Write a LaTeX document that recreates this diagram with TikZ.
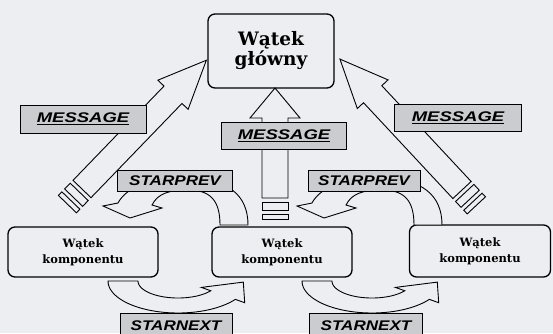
\documentclass[tikz,border=0pt]{standalone}
\usepackage{fontspec}
\usepackage{graphicx}
\usepackage{tikz}
\newfontfamily\tagfont{Liberation Sans}
\newfontfamily\boxfont{DejaVu Serif}

\definecolor{paper}{RGB}{236,238,242}
\definecolor{tagfill}{RGB}{202,204,208}

% striped block arrow: tail, angle, shaft length, head length, head half width, shaft half width
\newcommand{\stripedarrow}[6]{%
  \begin{scope}[shift={(#1)}, rotate=#2]
    \draw[blockarrow] (0,-#6) -- (#3,-#6) -- (#3,-#5) -- ({#3+#4},0)
      -- (#3,#5) -- (#3,#6) -- (0,#6) -- cycle;
    \draw[blockarrow] (-4,-#6) rectangle (-12,#6);
    \draw[blockarrow] (-16,-#6) rectangle (-21,#6);
  \end{scope}}

% curved arrow over the boxes, head on the left
\newcommand{\prevarrow}[1]{%
  \begin{scope}[shift={(#1)}]
    \draw[blockarrow] (36,18) -- (64,18)
      .. controls (64,-12) and (44,-29) .. (1,-29)
      .. controls (-36,-29) and (-58,-19) .. (-66,-4)
      -- (-81,-1) -- (-54,11) -- (-22,1) -- (-32,-2)
      .. controls (-26,-14) and (-14,-17) .. (4,-17)
      .. controls (26,-17) and (36,-7) .. (36,18) -- cycle;
  \end{scope}}

% curved arrow under the boxes, head on the right
\newcommand{\nextarrow}[1]{%
  \begin{scope}[shift={(#1)}]
    \draw[blockarrow] (-40,0) -- (-70,0)
      -- plot[domain=180:35, samples=40] ({70*cos(\x)}, {32*sin(\x)})
      -- (66.7,21.7) -- (65.3,1.1) -- (23.4,6.4)
      -- plot[domain=35:180, samples=40] ({40*cos(\x)}, {17*sin(\x)}) -- cycle;
  \end{scope}}

\newcommand{\tagtext}[2][1.22]{\scalebox{#1}[1]{#2}}
\newcommand{\ultext}[1]{\setbox0\hbox{#1}\rlap{\rule[-2.6pt]{\wd0}{1.1pt}}\box0}

\tikzset{
  box/.style={draw, line width=1.3pt, rounded corners=7pt, fill=paper,
    align=center, inner sep=0pt},
  blockarrow/.style={draw, line width=0.9pt, fill=paper},
  tag/.style={draw, line width=0.9pt, fill=tagfill, inner sep=0pt,
    font=\tagfont\bfseries\itshape\fontsize{14}{14}\selectfont}
}

\begin{document}
\begin{tikzpicture}[x=1pt, y=-1pt]
    \useasboundingbox (0,0) rectangle (553,333);
    \fill[paper] (0,0) rectangle (553,333);

    % threads
    \node[box, minimum width=126pt, minimum height=74pt,
      font=\boxfont\bfseries\fontsize{18.5}{20}\selectfont] (main) at (271,51) {Wątek\\główny};
    \node[box, minimum width=150pt, minimum height=50pt,
      font=\boxfont\bfseries\fontsize{11.5}{16}\selectfont] (comp1) at (83,252) {Wątek\\komponentu};
    \node[box, minimum width=140pt, minimum height=50pt,
      font=\boxfont\bfseries\fontsize{11.5}{16}\selectfont] (comp2) at (282,252) {Wątek\\komponentu};
    \node[box, minimum width=141pt, minimum height=52pt,
      font=\boxfont\bfseries\fontsize{11.5}{16}\selectfont] (comp3) at (480,251) {Wątek\\komponentu};

    % tails of the message arrows
    \coordinate (tail1) at (82,189);
    \coordinate (tail2) at (275,198);
    \coordinate (tail3) at (462,190);

    \stripedarrow{tail1}{46}{131}{48}{21}{12.5}
    \stripedarrow{tail2}{90}{80}{30}{25}{13}
    \stripedarrow{tail3}{133}{131}{48}{21}{12.5}

    % centres of the curved arrows
    \coordinate (prev1) at (184,207);
    \coordinate (prev2) at (378,207);
    \coordinate (next1) at (178,281);
    \coordinate (next2) at (372,281);

    \prevarrow{prev1}
    \prevarrow{prev2}
    \nextarrow{next1}
    \nextarrow{next2}

    % labels
    \node[tag, minimum width=126pt, minimum height=28pt] (msg1) at (83,119) {\tagtext[1.32]{\ultext{MESSAGE}}};
    \node[tag, minimum width=125pt, minimum height=27pt] (msg2) at (284,136) {\tagtext[1.32]{\ultext{MESSAGE}}};
    \node[tag, minimum width=127pt, minimum height=27pt] (msg3) at (458,118) {\tagtext[1.32]{\ultext{MESSAGE}}};

    \node[tag, minimum width=115pt, minimum height=21pt] (prevtag1) at (175,181) {\tagtext{STARPREV}};
    \node[tag, minimum width=112pt, minimum height=21pt] (prevtag2) at (364,181) {\tagtext{STARPREV}};

    \node[tag, minimum width=112pt, minimum height=26pt] (nexttag1) at (176,326) {\tagtext{STARNEXT}};
    \node[tag, minimum width=113pt, minimum height=26pt] (nexttag2) at (366,326) {\tagtext{STARNEXT}};
\end{tikzpicture}
\end{document}
